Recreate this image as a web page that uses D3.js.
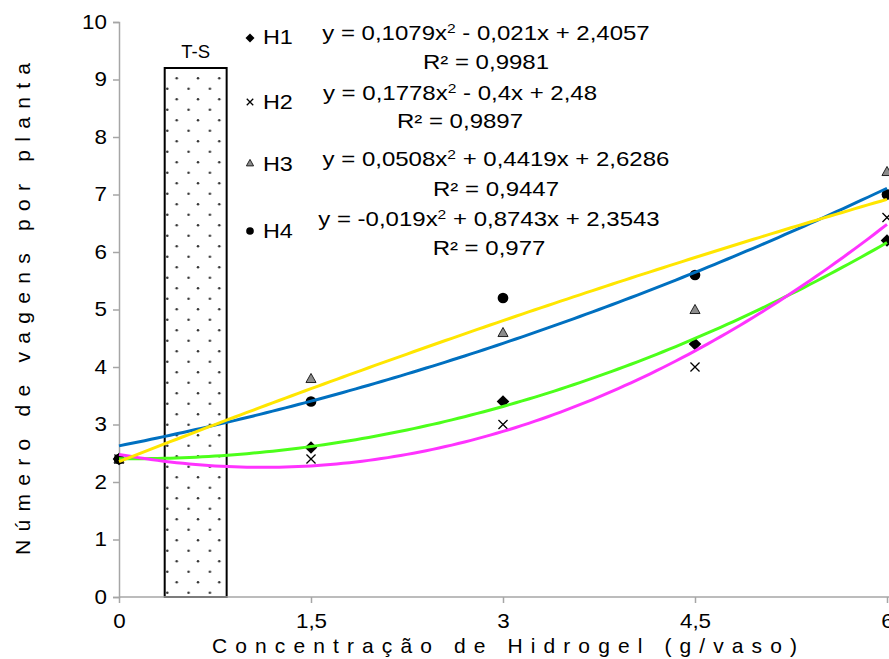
<!DOCTYPE html>
<html>
<head>
<meta charset="utf-8">
<script src="https://cdn.jsdelivr.net/npm/d3@7/dist/d3.min.js"></script>
<style>
  html, body { margin: 0; padding: 0; background: #fff; }
  svg { display: block; font-family: "Liberation Sans", Arial, sans-serif; }
</style>
</head>
<body>
<svg id="chart" width="889" height="659"></svg>
<script>
// Hydrogel dose on the x axis (g/vaso)
const doses = [0, 1.5, 3, 4.5, 6];
// Pods per plant, one array per treatment
const h1 = [2.4, 2.6, 3.4, 4.4, 6.2];
const h2 = [2.4, 2.4, 3.0, 4.0, 6.6];
const h3 = [2.4, 3.8, 4.6, 5.0, 7.4];
const h4 = [2.4, 3.4, 5.2, 5.6, 7.0];
const seriesNames = ["H1", "H2", "H3", "H4"];
// Quadratic fits: [a, b, c] for y = a x² + b x + c
const fitH1 = [0.1079, -0.021, 2.4057];
const fitH2 = [0.1778, -0.4, 2.48];
const fitH3 = [0.0508, 0.4419, 2.6286];
const fitH4 = [-0.019, 0.8743, 2.3543];
const eqParts = [
  ["y = 0,1079x", " - 0,021x + 2,4057"],
  ["y = 0,1778x", " - 0,4x + 2,48"],
  ["y = 0,0508x", " + 0,4419x + 2,6286"],
  ["y = -0,019x", " + 0,8743x + 2,3543"]
];
const r2Labels = ["0,9981", "0,9897", "0,9447", "0,977"];
// Tick values
const xTicks = [0, 1.5, 3, 4.5, 6];
const yTicks = [0, 1, 2, 3, 4, 5, 6, 7, 8, 9, 10];
// Shaded band labelled T-S (dose range and height in data units)
const tsBand = [0.357, 0.841];
const tsTop = 9.2;
const tsLabel = "T-S";

const xTitle = "Concentração de Hidrogel (g/vaso)";
const yTitle = "Número de vagens por planta";

const series = [
  { name: seriesNames[0], values: h1, fit: fitH1, color: "#4cff1a", marker: "diamond" },
  { name: seriesNames[1], values: h2, fit: fitH2, color: "#ff33ff", marker: "cross" },
  { name: seriesNames[2], values: h3, fit: fitH3, color: "#0070c0", marker: "triangle" },
  { name: seriesNames[3], values: h4, fit: fitH4, color: "#ffe600", marker: "circle" }
];

const svg = d3.select("#chart");
const x = d3.scaleLinear().domain([0, 6]).range([119, 887]);
const y = d3.scaleLinear().domain([0, 10]).range([597, 22]);
const fmt = v => String(v).replace(".", ",");
const axisGrey = "#a6a6a6";

// Stretch text horizontally around its anchor point
function stretch(sel, k) {
  sel.each(function () {
    const x0 = +(this.getAttribute("x") || 0);
    this.setAttribute("transform", `translate(${x0},0) scale(${k},1) translate(${-x0},0)`);
  });
}

// Dotted fill for the T-S band
const defs = svg.append("defs");
const pat = defs.append("pattern")
  .attr("id", "dots").attr("patternUnits", "userSpaceOnUse")
  .attr("x", 166).attr("y", 77).attr("width", 21.3).attr("height", 21);
pat.append("circle").attr("cx", 10.7).attr("cy", 1.3).attr("r", 1.25).attr("fill", "#333");
pat.append("circle").attr("cx", 1.3).attr("cy", 11.8).attr("r", 1.25).attr("fill", "#333");

svg.append("rect")
  .attr("x", x(tsBand[0])).attr("y", y(tsTop))
  .attr("width", x(tsBand[1]) - x(tsBand[0]))
  .attr("height", y(0) - y(tsTop))
  .attr("fill", "url(#dots)")
  .attr("stroke", "#000").attr("stroke-width", 2);

svg.append("text")
  .attr("x", x((tsBand[0] + tsBand[1]) / 2)).attr("y", y(tsTop) - 10)
  .attr("text-anchor", "middle").attr("font-size", 18.5)
  .text(tsLabel);

// Axes
const yAxis = svg.append("g").attr("transform", `translate(${x(0)},0)`)
  .call(d3.axisLeft(y).tickValues(yTicks).tickSize(6).tickPadding(6).tickFormat(fmt));
const xAxis = svg.append("g").attr("transform", `translate(0,${y(0)})`)
  .call(d3.axisBottom(x).tickValues(xTicks).tickSize(6).tickPadding(11).tickFormat(fmt));
[xAxis, yAxis].forEach(g => {
  g.select(".domain").attr("stroke", axisGrey).attr("stroke-width", 1.5);
  g.selectAll(".tick line").attr("stroke", axisGrey).attr("stroke-width", 1.5);
  g.selectAll(".tick text").attr("font-size", 20).attr("fill", "#000")
    .attr("font-family", "Liberation Sans, Arial, sans-serif");
});
stretch(yAxis.selectAll(".tick text"), 1.12);
stretch(xAxis.selectAll(".tick text"), 1.12);
xAxis.select(".domain").attr("d", `M${x(0)},0H889`);

// Axis titles
svg.append("text")
  .attr("x", 504.5).attr("y", 653)
  .attr("text-anchor", "middle").attr("font-size", 21)
  .attr("textLength", 585).attr("lengthAdjust", "spacing")
  .text(xTitle);
svg.append("text")
  .attr("transform", "translate(30,309) rotate(-90)")
  .attr("text-anchor", "middle").attr("font-size", 21)
  .attr("textLength", 492).attr("lengthAdjust", "spacing")
  .text(yTitle);

// Marker shapes
function drawMarker(g, type, s) {
  if (type === "diamond") {
    g.append("path").attr("d", `M0,${-s}L${s},0L0,${s}L${-s},0Z`).attr("fill", "#000");
  } else if (type === "cross") {
    const c = s * 0.72;
    g.append("path").attr("d", `M${-c},${-c}L${c},${c}M${-c},${c}L${c},${-c}`)
      .attr("stroke", "#000").attr("stroke-width", 1.3).attr("fill", "none");
  } else if (type === "triangle") {
    const t = s * 0.8;
    g.append("path").attr("d", `M0,${-t}L${t},${t * 0.8}L${-t},${t * 0.8}Z`)
      .attr("fill", "#8c8c8c").attr("stroke", "#222").attr("stroke-width", 1);
  } else {
    g.append("circle").attr("r", s * 0.85).attr("fill", "#000");
  }
}

// Data points
series.forEach(s => {
  s.values.forEach((v, i) => {
    const g = svg.append("g").attr("transform", `translate(${x(doses[i])},${y(v)})`);
    drawMarker(g, s.marker, 6.3);
  });
});

// Trend lines from the fitted equations
const xs = d3.range(0, 6.0001, 0.05);
const line = d3.line().x(d => x(d[0])).y(d => y(d[1]));
series.forEach(s => {
  const [a, b, c] = s.fit;
  svg.append("path")
    .datum(xs.map(t => [t, a * t * t + b * t + c]))
    .attr("d", line)
    .attr("fill", "none").attr("stroke", s.color).attr("stroke-width", 3);
});

// Legend with equations
const legendMarkerY = [38, 102, 163, 231];
const legendLabelY = [44, 109, 171, 238];
const eqY = [40.5, 100.5, 166.5, 226.5];
const r2Y = [69, 128, 196, 255];
const eqX = [486, 460, 496, 489];
series.forEach((s, i) => {
  const g = svg.append("g").attr("transform", `translate(250,${legendMarkerY[i]})`);
  drawMarker(g, s.marker, 4.5);
  const lbl = svg.append("text").attr("x", 263).attr("y", legendLabelY[i])
    .attr("font-size", 19.5).text(s.name);
  stretch(lbl, 1.2);

  const eq = svg.append("text").attr("x", eqX[i]).attr("y", eqY[i])
    .attr("text-anchor", "middle").attr("font-size", 20);
  eq.append("tspan").text(eqParts[i][0]);
  eq.append("tspan").attr("font-size", 13).attr("dy", -7).text("2");
  eq.append("tspan").attr("dy", 7).text(eqParts[i][1]);
  stretch(eq, 1.2);

  const r2 = svg.append("text").attr("x", eqX[i]).attr("y", r2Y[i])
    .attr("text-anchor", "middle").attr("font-size", 20)
    .text(`R² = ${r2Labels[i]}`);
  stretch(r2, 1.2);
});
</script>
</body>
</html>
